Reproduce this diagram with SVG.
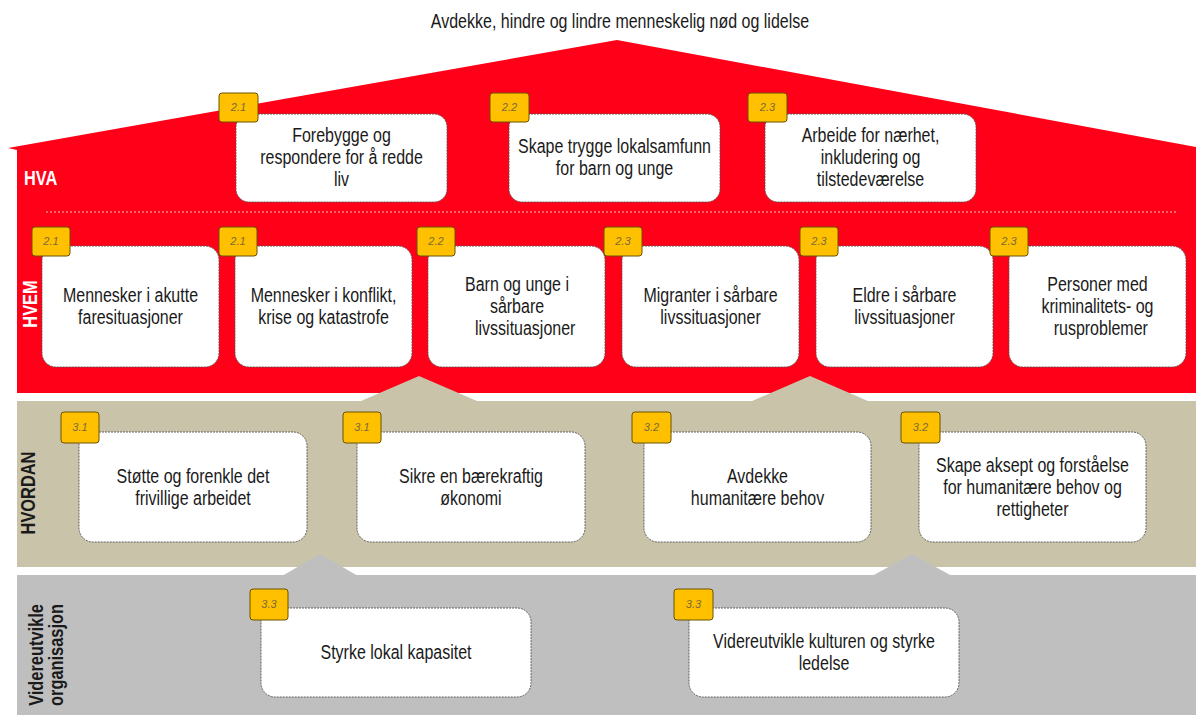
<svg xmlns="http://www.w3.org/2000/svg" width="1196" height="715" viewBox="0 0 1196 715">
<style>
.t{font-family:'Liberation Sans',Arial,sans-serif;font-size:19.5px;fill:#1a1a1a;text-anchor:middle}
.box{fill:#fff;stroke:#555;stroke-width:0.9;stroke-dasharray:2 1}
.bd{fill:#FFC000;stroke:#6b5200;stroke-width:1}
.bt{font-family:'Liberation Sans',Arial,sans-serif;font-size:11px;font-style:italic;fill:#7a6a3a;text-anchor:middle}
.lbl{font-family:'Liberation Sans',Arial,sans-serif;font-size:20px;font-weight:bold;text-anchor:middle}
</style>
<rect width="1196" height="715" fill="#fff"/>
<g id="bands">
<polygon points="8,148 617,40 1196,147 1196,393 17,393 17,150" fill="#FF0018"/>
<rect x="17" y="401" width="1179" height="166" fill="#C9C3A9"/>
<rect x="17" y="575" width="1179" height="140" fill="#BFBFBF"/>
<line x1="46" y1="212" x2="1176" y2="212" stroke="#fff" stroke-opacity="0.75" stroke-width="1" stroke-dasharray="2 2"/>
</g>
<g id="connectors">
<polygon points="361,401 419,376 477,401" fill="#C9C3A9"/>
<polygon points="752,401 810,376 868,401" fill="#C9C3A9"/>
<polygon points="282,576 320,554 358,576" fill="#BFBFBF"/>
<polygon points="872,576 912,554 952,576" fill="#BFBFBF"/>
</g>
<text class="t" transform="translate(620 0) scale(.82 1)" x="0" y="28">Avdekke, hindre og lindre menneskelig nød og lidelse</text>
<g id="labels">
<text class="lbl" transform="translate(24 0) scale(.82 1)" x="0" y="185" style="text-anchor:start;fill:#fff">HVA</text>
<text class="lbl" transform="translate(37,304) rotate(-90) scale(.82 1)" fill="#fff">HVEM</text>
<text class="lbl" transform="translate(35,493) rotate(-90) scale(.82 1)" fill="#1a1a1a">HVORDAN</text>
<text class="lbl" transform="translate(43,655) rotate(-90) scale(.82 1)" fill="#1a1a1a">Videreutvikle</text>
<text class="lbl" transform="translate(63,655) rotate(-90) scale(.82 1)" fill="#1a1a1a">organisasjon</text>
</g>

<g id="hva1"><rect class="box" x="236" y="114" width="211" height="88" rx="13"/><rect class="bd" x="219" y="93" width="39" height="29" rx="3"/><text class="bt" x="238.5" y="111">2.1</text>
<text class="t" transform="translate(341.5 0) scale(.82 1)"><tspan x="0" y="142">Forebygge og</tspan><tspan x="0" y="164">respondere for å redde</tspan><tspan x="0" y="186">liv</tspan></text></g>
<g id="hva2"><rect class="box" x="509" y="114" width="211" height="88" rx="13"/><rect class="bd" x="490" y="93" width="39" height="29" rx="3"/><text class="bt" x="509.5" y="111">2.2</text>
<text class="t" transform="translate(614.5 0) scale(.82 1)"><tspan x="0" y="153.5">Skape trygge lokalsamfunn</tspan><tspan x="0" y="175.5">for barn og unge</tspan></text></g>
<g id="hva3"><rect class="box" x="765" y="114" width="211" height="88" rx="13"/><rect class="bd" x="748" y="93" width="39" height="29" rx="3"/><text class="bt" x="767.5" y="111">2.3</text>
<text class="t" transform="translate(870.5 0) scale(.82 1)"><tspan x="0" y="142">Arbeide for nærhet,</tspan><tspan x="0" y="164">inkludering og</tspan><tspan x="0" y="186">tilstedeværelse</tspan></text></g>

<g id="hvem1"><rect class="box" x="42" y="246" width="177" height="121" rx="14"/><rect class="bd" x="32" y="227" width="38" height="29" rx="3"/><text class="bt" x="51" y="245">2.1</text>
<text class="t" transform="translate(130.5 0) scale(.82 1)"><tspan x="0" y="302.5">Mennesker i akutte</tspan><tspan x="0" y="324.5">faresituasjoner</tspan></text></g>
<g id="hvem2"><rect class="box" x="235" y="246" width="177" height="121" rx="14"/><rect class="bd" x="219" y="227" width="38" height="29" rx="3"/><text class="bt" x="238" y="245">2.1</text>
<text class="t" transform="translate(323.5 0) scale(.82 1)"><tspan x="0" y="302.5">Mennesker i konflikt,</tspan><tspan x="0" y="324.5">krise og katastrofe</tspan></text></g>
<g id="hvem3"><rect class="box" x="428" y="246" width="177" height="121" rx="14"/><rect class="bd" x="417" y="227" width="38" height="29" rx="3"/><text class="bt" x="436" y="245">2.2</text>
<text class="t" transform="translate(517 0) scale(.82 1)"><tspan x="0" y="291">Barn og unge i</tspan><tspan x="0" y="313">sårbare</tspan><tspan x="10" y="335">livssituasjoner</tspan></text></g>
<g id="hvem4"><rect class="box" x="622" y="246" width="177" height="121" rx="14"/><rect class="bd" x="604" y="227" width="38" height="29" rx="3"/><text class="bt" x="623" y="245">2.3</text>
<text class="t" transform="translate(710.5 0) scale(.82 1)"><tspan x="0" y="302.5">Migranter i sårbare</tspan><tspan x="0" y="324.5">livssituasjoner</tspan></text></g>
<g id="hvem5"><rect class="box" x="816" y="246" width="177" height="121" rx="14"/><rect class="bd" x="800" y="227" width="38" height="29" rx="3"/><text class="bt" x="819" y="245">2.3</text>
<text class="t" transform="translate(904.5 0) scale(.82 1)"><tspan x="0" y="302.5">Eldre i sårbare</tspan><tspan x="0" y="324.5">livssituasjoner</tspan></text></g>
<g id="hvem6"><rect class="box" x="1009" y="246" width="177" height="121" rx="14"/><rect class="bd" x="990" y="227" width="38" height="29" rx="3"/><text class="bt" x="1009" y="245">2.3</text>
<text class="t" transform="translate(1097.5 0) scale(.82 1)"><tspan x="0" y="291">Personer med</tspan><tspan x="0" y="313">kriminalitets- og</tspan><tspan x="4" y="335">rusproblemer</tspan></text></g>

<g id="hvordan1"><rect class="box" x="79" y="432" width="228" height="110" rx="14"/><rect class="bd" x="61" y="412" width="38" height="31" rx="3"/><text class="bt" x="80" y="431">3.1</text>
<text class="t" transform="translate(193 0) scale(.82 1)"><tspan x="0" y="483">Støtte og forenkle det</tspan><tspan x="0" y="505">frivillige arbeidet</tspan></text></g>
<g id="hvordan2"><rect class="box" x="357" y="432" width="228" height="110" rx="14"/><rect class="bd" x="343" y="412" width="38" height="31" rx="3"/><text class="bt" x="362" y="431">3.1</text>
<text class="t" transform="translate(471 0) scale(.82 1)"><tspan x="0" y="483">Sikre en bærekraftig</tspan><tspan x="0" y="505">økonomi</tspan></text></g>
<g id="hvordan3"><rect class="box" x="644" y="432" width="227" height="110" rx="14"/><rect class="bd" x="632" y="412" width="39" height="31" rx="3"/><text class="bt" x="651.5" y="431">3.2</text>
<text class="t" transform="translate(757.5 0) scale(.82 1)"><tspan x="0" y="483">Avdekke</tspan><tspan x="0" y="505">humanitære behov</tspan></text></g>
<g id="hvordan4"><rect class="box" x="919" y="432" width="227" height="110" rx="14"/><rect class="bd" x="901" y="412" width="39" height="31" rx="3"/><text class="bt" x="920.5" y="431">3.2</text>
<text class="t" transform="translate(1032.5 0) scale(.82 1)"><tspan x="0" y="472">Skape aksept og forståelse</tspan><tspan x="0" y="494">for humanitære behov og</tspan><tspan x="0" y="516">rettigheter</tspan></text></g>

<g id="org1"><rect class="box" x="261" y="608" width="270" height="89" rx="14"/><rect class="bd" x="250" y="589" width="38" height="31" rx="3"/><text class="bt" x="269" y="608">3.3</text>
<text class="t" transform="translate(396 0) scale(.82 1)"><tspan x="0" y="659.5">Styrke lokal kapasitet</tspan></text></g>
<g id="org2"><rect class="box" x="689" y="608" width="270" height="89" rx="14"/><rect class="bd" x="674" y="589" width="39" height="31" rx="3"/><text class="bt" x="693.5" y="608">3.3</text>
<text class="t" transform="translate(824 0) scale(.82 1)"><tspan x="0" y="648.5">Videreutvikle kulturen og styrke</tspan><tspan x="0" y="670.5">ledelse</tspan></text></g>
</svg>
